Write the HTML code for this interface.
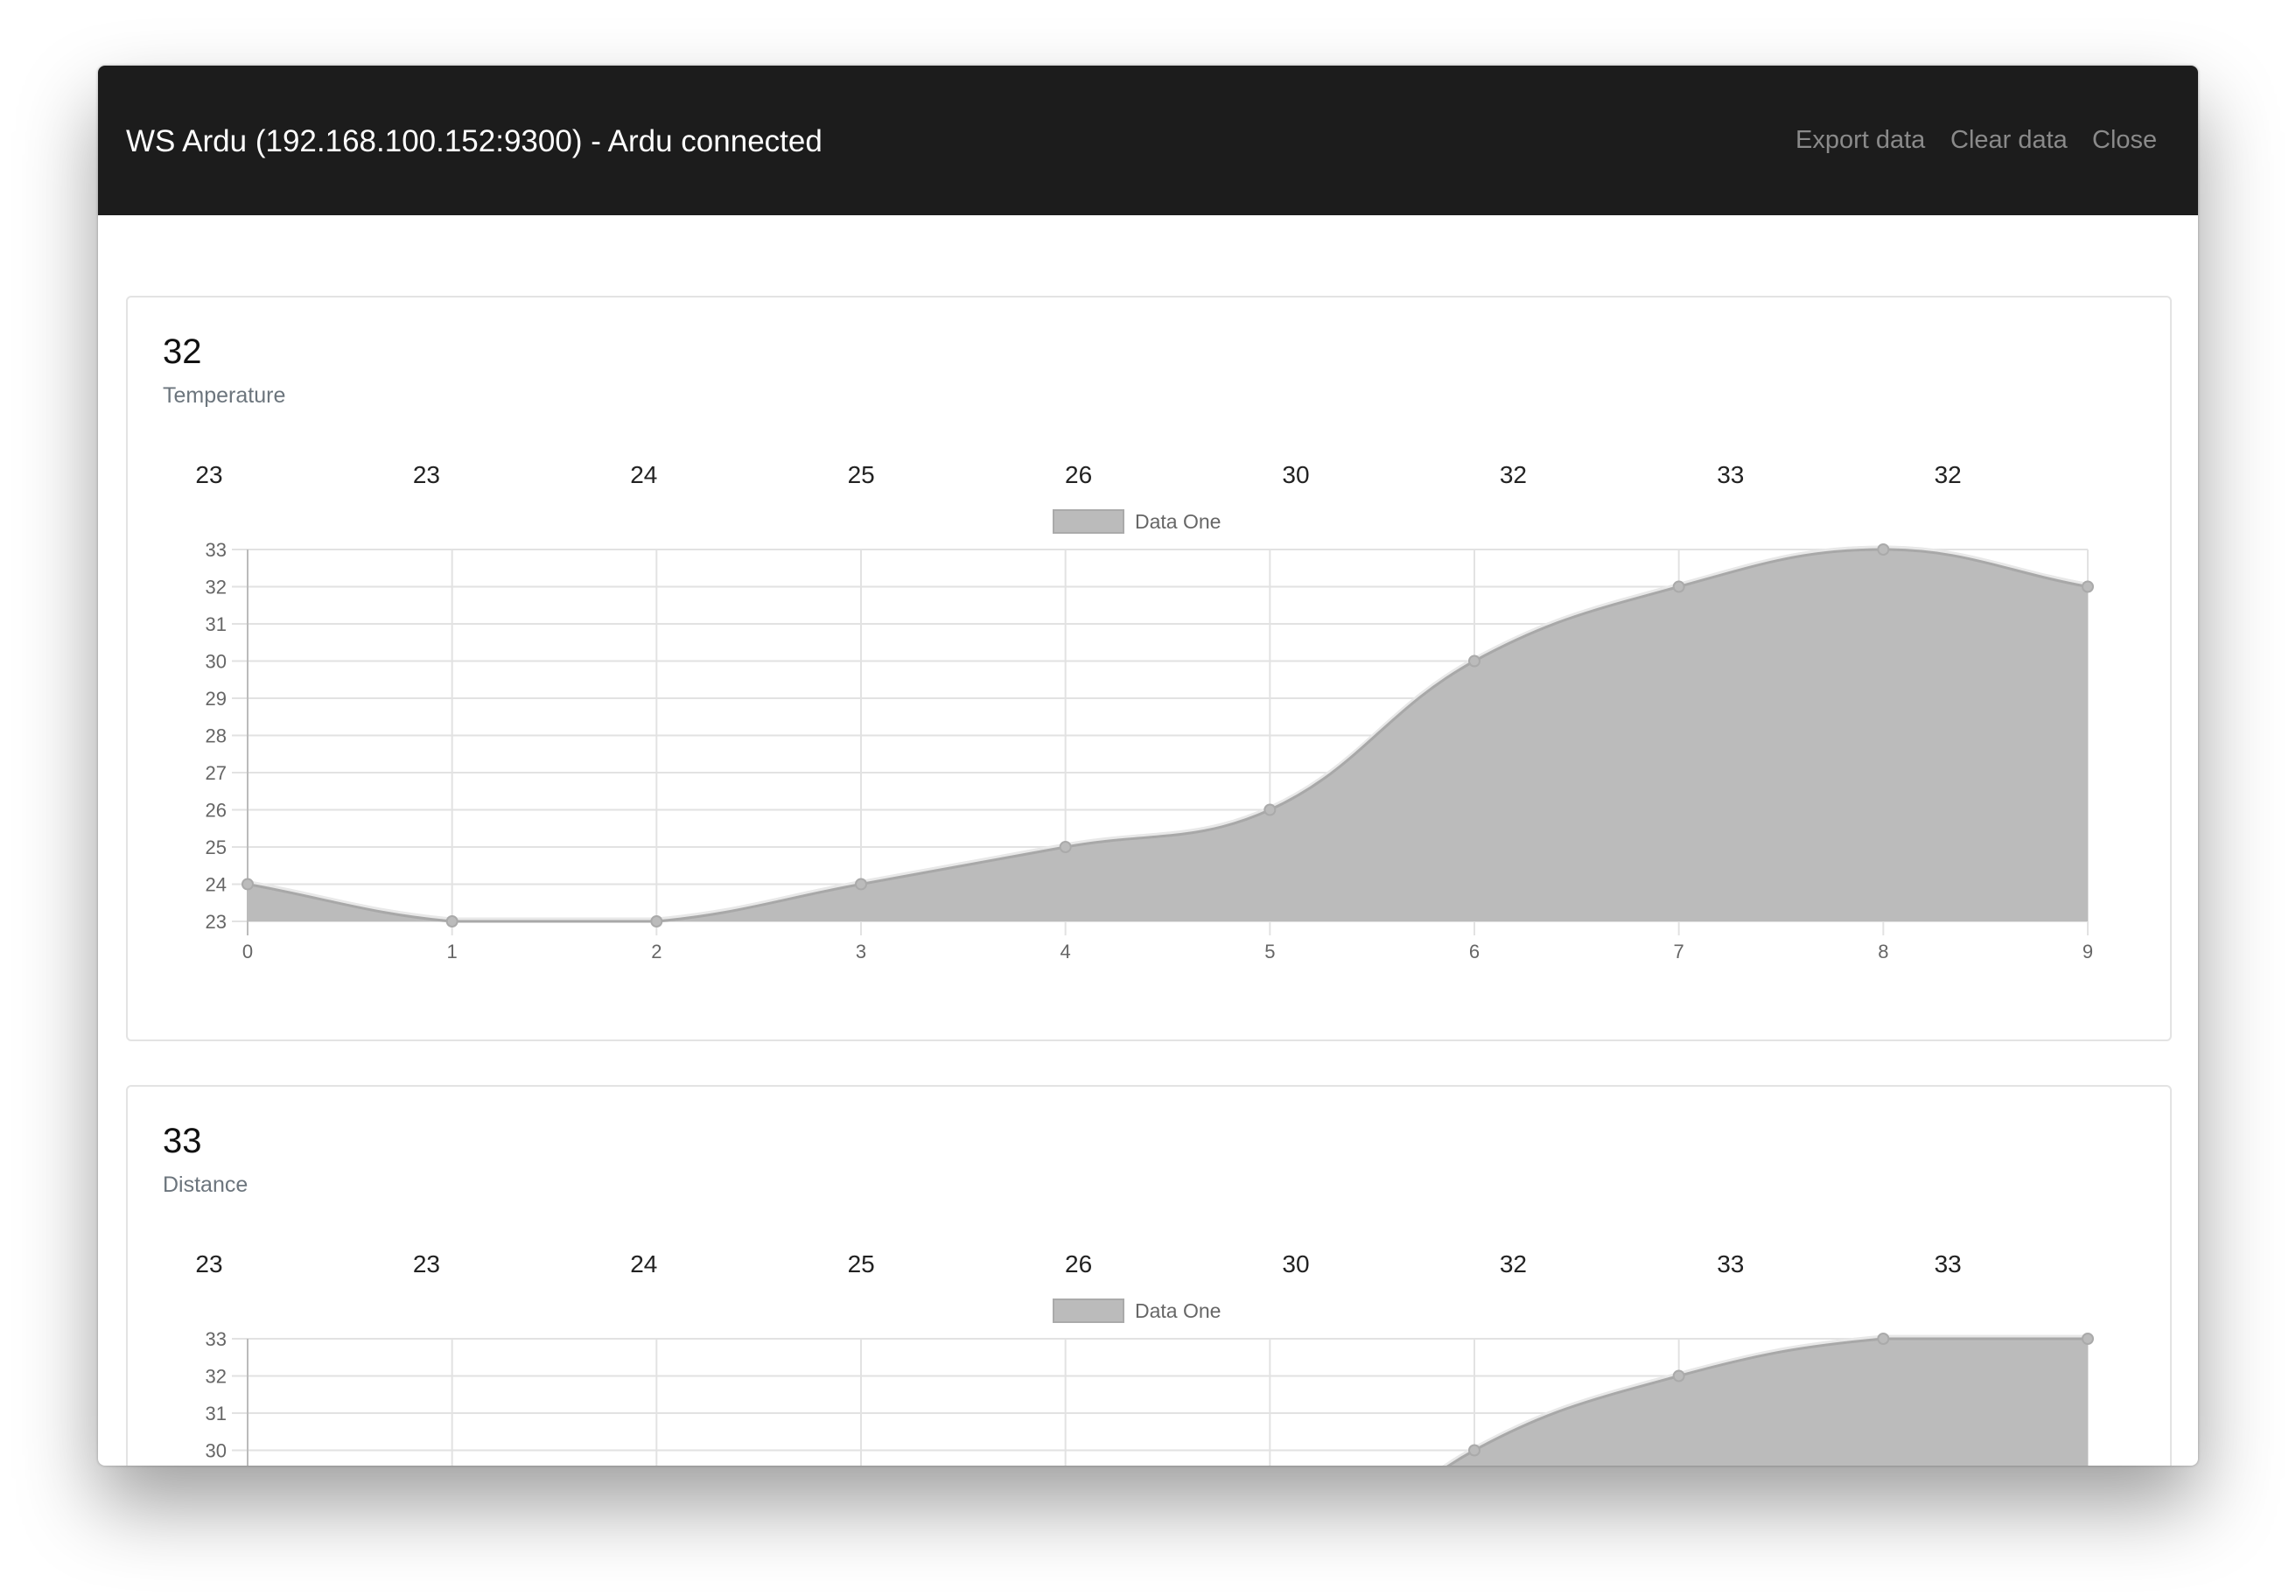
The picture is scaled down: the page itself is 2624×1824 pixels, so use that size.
<!DOCTYPE html>
<html><head><meta charset="utf-8"><style>
html,body{margin:0;padding:0;width:2624px;height:1824px;background:#fff;overflow:hidden;font-family:"Liberation Sans",sans-serif}
#win{position:absolute;left:112px;top:75px;width:2400px;height:1600px;background:#fff;border-radius:8px;overflow:hidden;box-shadow:0 45px 90px rgba(0,0,0,0.38),0 0 3px rgba(0,0,0,0.3)}
#hdr{position:absolute;left:0;top:0;width:2400px;height:171px;background:#1c1c1c}
#title{position:absolute;left:32px;top:67px;color:#fff;font-size:35px;line-height:40px}
.lnk{position:absolute;top:68px;color:#8a8a8a;font-size:29px;line-height:34px}
.card{position:absolute;left:32px;width:2334px;border:2px solid #e3e3e3;border-radius:6px;background:#fff}
.big{position:absolute;left:40px;font-size:40px;color:#111}
.sub{position:absolute;left:40px;font-size:25px;color:#6c757d}
svg{position:absolute;left:0;top:0}
</style></head><body>
<div id="win">
 <div id="hdr">
  <div id="title">WS Ardu (192.168.100.152:9300) - Ardu connected</div>
  <div class="lnk" style="left:1940px">Export data</div>
  <div class="lnk" style="left:2117px">Clear data</div>
  <div class="lnk" style="left:2279px">Close</div>
 </div>
 <div class="card" style="top:263px;height:848px">
  <div class="big" style="top:40px">32</div>
  <div class="sub" style="top:98px">Temperature</div>
 </div>
 <div class="card" style="top:1165px;height:480px">
  <div class="big" style="top:40px">33</div>
  <div class="sub" style="top:98px">Distance</div>
 </div>
 <svg id="chart" width="2400" height="1600"></svg>
</div>
<script>
const categories=[0,1,2,3,4,5,6,7,8,9];
const tempValues=[24,23,23,24,25,26,30,32,33,32];
const distValues=[24,23,23,24,25,26,30,32,33,33];
const yTicks=[23,24,25,26,27,28,29,30,31,32,33];
const NS="http://www.w3.org/2000/svg";
const svg=document.getElementById('chart');
function el(tag,attrs,parent){const e=document.createElementNS(NS,tag);for(const k in attrs)e.setAttribute(k,attrs[k]);(parent||svg).appendChild(e);return e;}
function drawChart(values,top,name){
  const g=el('g',{});
  
  
  const x0=171,x1=2274,yTop=top,yBot=top+425;
  const yMin=23,yMax=33;
  const X=i=>x0+(x1-x0)*i/(categories.length-1);
  const Y=v=>yBot-(v-yMin)/(yMax-yMin)*(yBot-yTop);
  for(let i=1;i<values.length;i++){
    const t=el('text',{x:127+(i-1)*248.4,y:top-76,'font-size':28,fill:'#222','text-anchor':'middle','font-family':'Liberation Sans, sans-serif'},g);
    t.textContent=values[i];
    
    
  }
  const lg=el('g',{},g);
  
  
  el('rect',{x:1092,y:top-45,width:80,height:26,fill:'#bbb',stroke:'#aaa','stroke-width':2},lg);
  const lt=el('text',{x:1185,y:top-24,'font-size':23,fill:'#666','font-family':'Liberation Sans, sans-serif'},lg);
  lt.textContent='Data One';
  yTicks.forEach(v=>{
    const ln=el('line',{x1:x0-18,x2:x1,y1:Y(v),y2:Y(v),stroke:'#e2e2e2','stroke-width':2},g);
    
    
    const t=el('text',{x:x0-24,y:Y(v)+8,'font-size':22,fill:'#666','text-anchor':'end','font-family':'Liberation Sans, sans-serif'},g);
    t.textContent=v;
    
    
  });
  categories.forEach((c,i)=>{
    const ln=el('line',{x1:X(i),x2:X(i),y1:yTop,y2:yBot+16,stroke:i==0?'#bbb':'#e2e2e2','stroke-width':2},g);
    
    
    const t=el('text',{x:X(i),y:yBot+42,'font-size':22,fill:'#666','text-anchor':'middle','font-family':'Liberation Sans, sans-serif'},g);
    t.textContent=c;
    
    
  });
  const pts=values.map((v,i)=>({x:X(i),y:Y(v)}));
  const t=0.4;
  const cps=pts.map((p,i)=>{
    const prev=pts[i-1]||p,next=pts[i+1]||p;
    const d01=Math.hypot(p.x-prev.x,p.y-prev.y),d12=Math.hypot(next.x-p.x,next.y-p.y);
    let fa=d01/(d01+d12)||0,fb=d12/(d01+d12)||0;
    fa*=t;fb*=t;
    const cl=(y)=>Math.max(yTop,Math.min(yBot,y));
    return {px:p.x-fa*(next.x-prev.x),py:cl(p.y-fa*(next.y-prev.y)),nx:p.x+fb*(next.x-prev.x),ny:cl(p.y+fb*(next.y-prev.y))};
  });
  let d=`M${pts[0].x},${pts[0].y}`;
  for(let i=1;i<pts.length;i++){d+=` C${cps[i-1].nx},${cps[i-1].ny} ${cps[i].px},${cps[i].py} ${pts[i].x},${pts[i].y}`;}
  const area=el('path',{d:d+` L${x1},${yBot} L${x0},${yBot} Z`,fill:'#bbb'},g);
  
  
  el('path',{d:d,fill:'none',stroke:'#e8e8e8','stroke-width':5,transform:'translate(0,-2)'},g);
  const line=el('path',{d:d,fill:'none',stroke:'#a8a8a8','stroke-width':3},g);
  
  
  pts.forEach(p=>{
    const c=el('circle',{cx:p.x,cy:p.y,r:6,fill:'#bbb',stroke:'#aaa','stroke-width':2},g);
    
    
  });
}
drawChart(tempValues,553,'temperature-chart');
drawChart(distValues,1455,'distance-chart');
</script>
</body></html>
